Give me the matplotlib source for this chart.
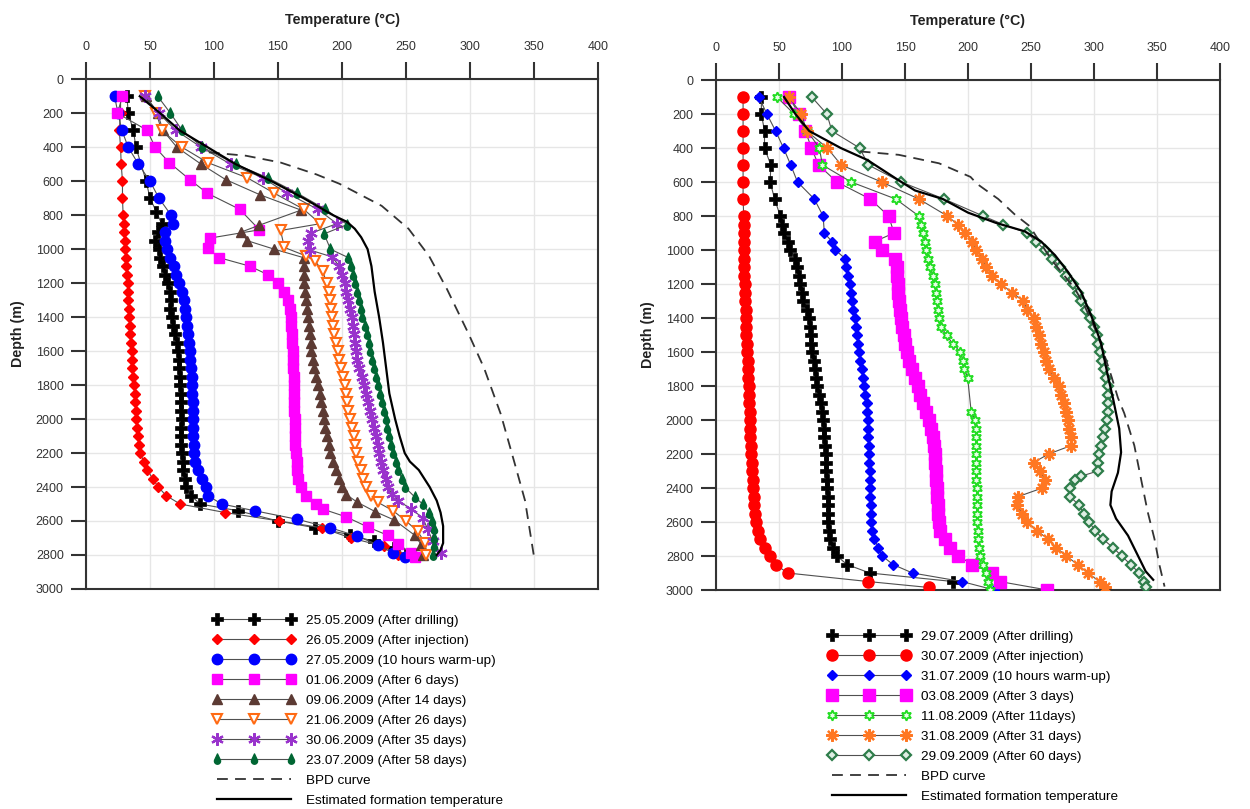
import numpy as np
import matplotlib
matplotlib.use('Agg')
import matplotlib.pyplot as plt
from matplotlib.path import Path

plt.rcParams['font.family'] = ['Liberation Sans', 'DejaVu Sans']

# ---------------- LEFT PANEL DATA (2009 May-July) ----------------
L1_label = "25.05.2009 (After drilling)"
L1_d = [100,200,300,400,600,700,780,850,900,950,1000,1050,1100,1150,1200,1250,1300,1350,1400,1450,1500,1550,1600,1650,1700,1750,1800,1850,1900,1950,2000,2050,2100,2150,2200,2250,2300,2350,2400,2450,2500,2540,2600,2640,2680,2720,2760,2800]
L1_t = [32,33,37,39,47,50,55,59,56,54,57,58,60,62,64,65.5,66.5,66,67,68,69.5,71,72,72.5,73,73.5,73.5,74,74,74.5,75,74.5,74,74.5,75,75.5,76,77,78,82,89,119,150,179,206,225,241,250]

L2_label = "26.05.2009 (After injection)"
L2_d = [100,200,300,400,500,600,700,800,850,900,950,1000,1050,1100,1150,1200,1250,1300,1350,1400,1450,1500,1550,1600,1650,1700,1750,1800,1850,1900,1950,2000,2050,2100,2150,2200,2250,2300,2350,2400,2450,2500,2550,2600,2640,2700,2750,2800]
L2_t = [27,27,26,27,27.5,28.5,28.5,29,29.5,30,30.3,30.7,31,31.6,32,32.6,33,33,33.4,33.8,34.2,34.7,35.2,35.7,36,36.3,37,37.8,38,38.4,39,39.4,40,40.3,41.3,42.5,45,48,52,56.5,62.5,73.5,108.5,151,184,207,233,244]

L3_label = "27.05.2009 (10 hours warm-up)"
L3_d = [100,200,300,400,500,600,700,800,850,900,950,1000,1050,1100,1150,1200,1250,1300,1350,1400,1450,1500,1550,1600,1650,1700,1750,1800,1850,1900,1950,2000,2050,2100,2150,2200,2250,2300,2350,2400,2450,2500,2540,2590,2640,2690,2740,2790,2810]
L3_t = [22.3,25,28,33,41,50,57,66.5,68,62,62,63.5,66,69,70.5,73,75,76.5,77,78,79,79.7,80.5,81,81.5,82,82.5,82.8,83,83.4,83.4,83.4,83.5,83.7,84,84.3,85.5,87.4,90.5,93.5,95,106,132,165,191,212,228,240,249]

L4_label = "01.06.2009 (After 6 days)"
L4_d = [100,200,300,400,490,590,670,765,886,935,994,1050,1100,1150,1200,1250,1300,1350,1400,1450,1500,1550,1600,1650,1700,1750,1800,1850,1900,1950,2000,2050,2100,2150,2200,2250,2300,2350,2400,2450,2500,2530,2575,2635,2685,2735,2790,2810]
L4_t = [28.5,24.5,47.8,54,65,81,94.6,120,135.5,96.7,95,104,128,142,150,155,158,159.5,160,160.5,161,161.3,161.7,161.8,162,162.2,162.5,162.5,162.5,162.7,163,163,163,163.5,164,164.5,165,166,168,172,180,185,203,220,236,244,254,257]

L5_label = "09.06.2009 (After 14 days)"
L5_d = [100,200,300,400,500,590,680,770,860,900,950,1000,1050,1100,1150,1200,1250,1300,1350,1400,1450,1500,1550,1600,1650,1700,1750,1800,1850,1900,1950,2000,2050,2100,2150,2200,2250,2300,2350,2400,2445,2490,2545,2595,2685,2740,2800]
L5_t = [47,56,60,71,90,109,136,168,135,121,126,147,170,170,170,170.5,171,172,172.5,173.5,174,175,175.5,176,177,178,179.5,181,182.5,183.5,185,186,187,188,189.5,191,193,195,198,200,203.5,212,226,241,257,262,263]

L6_label = "21.06.2009 (After 26 days)"
L6_d = [100,200,300,400,490,580,670,765,850,890,990,1040,1070,1130,1200,1250,1300,1350,1400,1450,1500,1550,1600,1650,1700,1750,1800,1850,1900,1950,2000,2050,2100,2150,2200,2250,2300,2350,2400,2450,2490,2540,2600,2660,2730,2800]
L6_t = [46,55,59,75,95,126,147,170,183,152,155,172,179,185,188,189.5,190.5,191.5,192,193,194,195.5,197,198,199.5,201,202,203,204,205,206.5,208,209,210,211,212.5,214.5,216.5,219,223,228,240,250,259,265,266]

L7_label = "30.06.2009 (After 35 days)"
L7_d = [100,200,300,400,500,580,670,765,850,905,950,1005,1045,1100,1150,1200,1250,1300,1350,1400,1450,1500,1550,1600,1650,1700,1750,1800,1850,1900,1950,2000,2050,2100,2150,2200,2250,2300,2350,2400,2440,2480,2530,2580,2650,2720,2790]
L7_t = [46,57,70,90,113,138,157,181,196,176,173.5,175,192,198,200,202,203.5,205,206.5,207.5,208.5,209.5,210.5,211,212,213.5,215.5,217,218.5,220,222,223.5,225,226.5,228,229,230.5,232,234,236,239,244,254,263,267,271,277]

L8_label = "23.07.2009 (After 58 days)"
L8_d = [100,200,300,400,500,580,670,765,855,910,1000,1050,1100,1150,1200,1250,1300,1350,1400,1450,1500,1550,1600,1650,1700,1750,1800,1850,1900,1950,2000,2050,2100,2150,2200,2250,2300,2350,2400,2460,2500,2550,2600,2650,2700,2750,2800]
L8_t = [56,66,75,91,117,142,165,187,204,186,191,205,207,208.5,210.5,212,213,214.5,216,218,219.5,221,222,223.5,225,226.5,228.5,229.5,231,232.5,234,235,236.5,238,240,242,244,246.5,249,257,263,268,270.5,271.5,271.5,271.5,271]

L_form_d = [100,200,300,400,500,600,700,800,840,880,930,1000,1100,1250,1400,1550,1700,1850,2000,2100,2200,2250,2300,2400,2480,2550,2630,2730,2770,2800]
L_form_t = [42,58,73,95,117,145,170,193,204,210,215,220,223,225.5,229,232,234.5,237,241.5,245,249,253,260,268.5,274,277,279,279,277,274]

L_bpd_d = [430,450,490,560,615,745,880,1040,1235,1500,1700,1970,2290,2480,2810]
L_bpd_t = [96,125,152,180,198,231,252,268,282,299,311,324,336,343,350]

# ---------------- RIGHT PANEL DATA (2009 July-Sept) ----------------
R1_label = "29.07.2009 (After drilling)"
R1_d = [100,200,300,400,500,600,700,800,850,900,950,1000,1050,1100,1150,1200,1250,1300,1350,1400,1450,1500,1550,1600,1650,1700,1750,1800,1850,1900,1950,2000,2050,2100,2150,2200,2250,2300,2350,2400,2450,2500,2550,2600,2650,2700,2750,2800,2850,2900,2950]
R1_t = [36,36,38.5,38.5,43.5,43,46.5,51,52,54,57,59,63,64.5,65.5,67,68,69,72,74,74.5,75,75.5,76.5,77.5,78.5,79.5,80.5,82,83.5,84.5,85,85.5,86,86.5,87,87,87.5,88,88,88.5,88.5,89,89,89.5,90.5,92.5,96,104,122,188]

R2_label = "30.07.2009 (After injection)"
R2_d = [100,200,300,400,500,600,700,800,850,900,950,1000,1050,1100,1150,1200,1250,1300,1350,1400,1450,1500,1550,1600,1650,1700,1750,1800,1850,1900,1950,2000,2050,2100,2150,2200,2250,2300,2350,2400,2450,2500,2550,2600,2650,2700,2750,2800,2850,2900,2950,2985]
R2_t = [21.5,21.5,21.5,21.5,21.5,21.5,21.5,22,22,22,22,22.2,22.3,22.5,22.6,22.7,23,23.3,23.5,23.7,24,24.2,24.4,24.6,25,25.3,25.6,25.9,26.1,26.4,26.6,26.8,27,27.3,27.5,27.8,28.2,28.6,29,29.3,29.8,30.3,30.8,31.5,33,35.3,38.5,42.5,47.3,56.8,120.5,168.7]

R3_label = "31.07.2009 (10 hours warm-up)"
R3_d = [100,200,300,400,500,600,700,800,900,950,1000,1050,1100,1150,1200,1250,1300,1350,1400,1450,1500,1550,1600,1650,1700,1750,1800,1850,1900,1950,2000,2050,2100,2150,2200,2250,2300,2350,2400,2450,2500,2550,2600,2650,2700,2750,2800,2850,2900,2950,3000]
R3_t = [34,40.4,47.3,53.6,59.3,64.7,78,85,86,92,94.6,102.5,103.5,104.7,106.6,107.5,108,109,110.4,111.5,112.3,113,113.6,114.5,115.5,116.5,117.4,118.5,119.5,120,120.5,121,121,121.3,121.5,121.8,122,122.2,122.4,122.5,122.7,122.8,123,124,125.6,128.7,132,140.4,156,195,221]

R4_label = "03.08.2009 (After 3 days)"
R4_d = [100,200,300,400,500,600,700,800,900,950,1000,1050,1100,1150,1200,1250,1300,1350,1400,1450,1500,1550,1600,1650,1700,1750,1800,1850,1900,1950,2000,2050,2100,2150,2200,2250,2300,2350,2400,2450,2500,2550,2600,2650,2700,2750,2800,2850,2900,2950,3000]
R4_t = [57.7,66,71,75.7,81.4,96,122.4,137,141.3,126,131.7,142.4,143.4,143.8,144.2,144.6,145,145.8,146.7,148,149,150,151.4,153.5,155.5,158,160.2,162,164,166.5,168.7,170.5,172,173,173.5,174,174.4,174.7,175,175.5,176,176.3,176.7,178,181.4,186,192.4,203.5,219,225,263]

R5_label = "11.08.2009 (After 11days)"
R5_d = [100,200,300,400,500,600,700,800,850,900,950,1000,1050,1100,1150,1200,1250,1300,1350,1400,1450,1500,1550,1600,1650,1700,1750,1950,2000,2050,2100,2150,2200,2250,2300,2350,2400,2450,2500,2550,2600,2650,2700,2750,2800,2850,2900,2950,3000]
R5_t = [48.3,62,72.5,82,84.5,107.3,142.6,161,162.5,164,165.5,167,168.5,170,172,173.5,174.5,175,176,176.7,178.2,183,187.7,194,196,197.2,199.7,202.5,205.7,206,206.5,206.5,206.6,206.6,206.6,206.7,206.8,207,207,207.2,207.5,207.8,208.2,209,209.8,212,214.5,216,217.8]

R6_label = "31.08.2009 (After 31 days)"
R6_d = [100,200,300,400,500,600,700,800,850,900,950,1000,1050,1100,1150,1200,1250,1300,1350,1400,1450,1500,1550,1600,1650,1700,1750,1800,1850,1900,1950,2000,2050,2100,2150,2200,2250,2300,2350,2400,2450,2500,2550,2600,2650,2700,2750,2800,2850,2900,2950,2980]
R6_t = [57.7,67.8,72,88.3,99.4,131.5,161,183.6,191.8,198,203.5,206.6,211.4,214.5,219.2,226,235,244,247,252,254,256,258,260,262,264,268,272,274,276,278,279.5,280.5,281.5,282,264,252,257,261,259,240,239,243,247,254.5,263.5,270,278,287,295,304.5,309]

R7_label = "29.09.2009 (After 60 days)"
R7_d = [100,200,300,400,500,600,700,800,850,900,950,1000,1050,1100,1150,1200,1250,1300,1350,1400,1450,1500,1550,1600,1650,1700,1750,1800,1850,1900,1950,2000,2050,2100,2150,2200,2250,2300,2330,2350,2400,2450,2500,2550,2600,2650,2700,2750,2800,2850,2900,2950,2980]
R7_t = [76,88,92,114,121,147,181,212,228,247,254,261,267,273,278,283,287,290,294,297,300,302,303.5,305,306,308,309.5,311,311,311,311,310,308.5,307,305.5,304,303,303,290,285,281,281,288,292,296,301,307,315,322,329,336,340,341]

R_form_d = [100,200,300,400,470,590,650,700,780,840,890,950,1030,1130,1250,1390,1545,1740,1870,2050,2190,2310,2420,2500,2580,2680,2800,2890,2940]
R_form_t = [54,63,74,99,120,145,158,180,200,222,245,258,269,279.5,290,298,305.5,311,315,320,321.5,319,314,313,317.5,327,335,341,347]

R_bpd_d = [420,440,490,570,610,700,790,860,930,1055,1230,1330,1500,1740,1870,1960,2150,2350,2540,2700,2855,2980]
R_bpd_t = [114,145,177,202,207,224,237,249,255,266,285,292.6,303,313.7,319,324,332,337.4,342.6,348,352,356]

BPD_label = "BPD curve"
FORM_label = "Estimated formation temperature"

# ---------------- styling ----------------
th = np.linspace(np.radians(160), np.radians(380), 24)
tear_verts = [(0.0, 1.0)] + [(0.55 * np.cos(a), -0.3 + 0.55 * np.sin(a)) for a in th] + [(0.0, 1.0)]
teardrop = Path(tear_verts, closed=True)

LINE_C = '#505050'

left_styles = [
    (L1_d, L1_t, L1_label, dict(marker='P', ms=8, mfc='black', mec='black', mew=0.5)),
    (L2_d, L2_t, L2_label, dict(marker='D', ms=5.5, mfc='#ff0000', mec='#ff0000')),
    (L3_d, L3_t, L3_label, dict(marker='o', ms=7.5, mfc='#0000ff', mec='#0000ff')),
    (L4_d, L4_t, L4_label, dict(marker='s', ms=7.5, mfc='#ff00ff', mec='#ff00ff')),
    (L5_d, L5_t, L5_label, dict(marker='^', ms=7, mfc='#5c3a33', mec='#5c3a33')),
    (L6_d, L6_t, L6_label, dict(marker='v', ms=7, mfc='white', mec='#ff6a13', mew=1.5)),
    (L7_d, L7_t, L7_label, dict(marker=(6, 2, 0), ms=9, mfc='#9933cc', mec='#9933cc', mew=1.6)),
    (L8_d, L8_t, L8_label, dict(marker=teardrop, ms=8, mfc='#006633', mec='#006633')),
]

right_styles = [
    (R1_d, R1_t, R1_label, dict(marker='P', ms=8, mfc='black', mec='black', mew=0.5)),
    (R2_d, R2_t, R2_label, dict(marker='o', ms=8, mfc='#ff0000', mec='#ff0000')),
    (R3_d, R3_t, R3_label, dict(marker='D', ms=5.5, mfc='#0000ff', mec='#0000ff')),
    (R4_d, R4_t, R4_label, dict(marker='s', ms=8, mfc='#ff00ff', mec='#ff00ff')),
    (R5_d, R5_t, R5_label, dict(marker=(6, 1, 0), ms=7.5, mfc='#e8ffe8', mec='#22dd22', mew=1.3)),
    (R6_d, R6_t, R6_label, dict(marker=(8, 2, 0), ms=9, mfc='#ff7722', mec='#ff7722', mew=1.6)),
    (R7_d, R7_t, R7_label, dict(marker='D', ms=5.5, mfc='#dfeee4', mec='#2e7d4a', mew=1.6)),
]


def setup(ax):
    ax.set_xlim(0, 400)
    ax.set_ylim(3000, 0)
    ax.set_xticks(np.arange(0, 401, 50))
    ax.set_yticks(np.arange(0, 3001, 200))
    ax.xaxis.tick_top()
    ax.xaxis.set_label_position('top')
    ax.tick_params(axis='x', direction='out', length=12, width=1.5, pad=7,
                   labelsize=9, color='#333333', labelcolor='#333333')
    ax.tick_params(axis='y', direction='out', length=11, width=1.5, pad=5,
                   labelsize=9, color='#333333', labelcolor='#333333')
    ax.grid(True, color='#e6e6e6', lw=1)
    ax.set_axisbelow(True)
    for s in ax.spines.values():
        s.set_linewidth(1.5)
        s.set_color('#333333')
    ax.set_xlabel('Temperature (°C)', fontweight='bold', fontsize=10.3, labelpad=12, color='#222222')
    ax.set_ylabel('Depth (m)', fontweight='bold', fontsize=10.3, labelpad=8, color='#222222')


def draw(ax, styles, form_d, form_t, bpd_d, bpd_t):
    handles = []
    for d, t, lab, st in styles:
        h, = ax.plot(t, d, color=LINE_C, lw=0.8, label=lab, zorder=3, **st)
        handles.append(h)
    hb, = ax.plot(bpd_t, bpd_d, color='#333333', lw=1.3, ls=(0, (6, 4)), label=BPD_label, zorder=4)
    hf, = ax.plot(form_t, form_d, color='black', lw=1.6, label=FORM_label, zorder=5)
    handles += [hb, hf]
    return handles


fig = plt.figure(figsize=(12.5, 8.09), dpi=100)
axL = fig.add_axes([0.0688, 0.272, 0.4096, 0.630])
axR = fig.add_axes([0.5728, 0.2707, 0.4032, 0.6304])
setup(axL)
setup(axR)

hL = draw(axL, left_styles, L_form_d, L_form_t, L_bpd_d, L_bpd_t)
hR = draw(axR, right_styles, R_form_d, R_form_t, R_bpd_d, R_bpd_t)

legkw = dict(frameon=False, numpoints=3, handlelength=6.1, handletextpad=0.85,
             fontsize=9.7, labelspacing=0.56, borderpad=0, borderaxespad=0, loc='upper left')
fig.legend(handles=hL, labels=[h.get_label() for h in hL],
           bbox_to_anchor=(0.170, 0.2405), **legkw)
fig.legend(handles=hR, labels=[h.get_label() for h in hR],
           bbox_to_anchor=(0.662, 0.2205), **legkw)

fig.savefig('out.png', dpi=100, facecolor='white')
